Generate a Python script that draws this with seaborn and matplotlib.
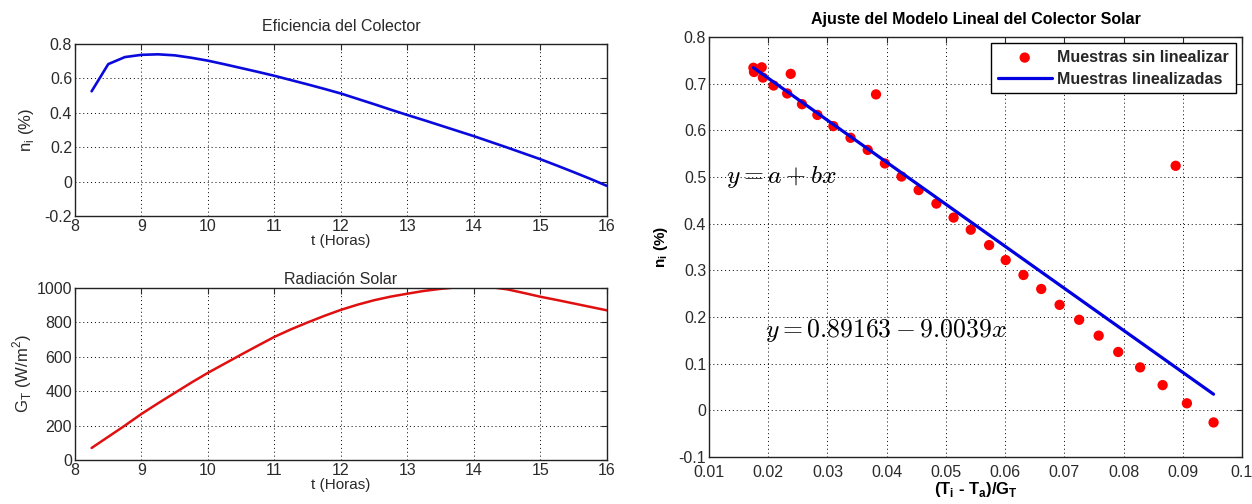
import numpy as np
import pandas as pd
import matplotlib
matplotlib.use("Agg")
import matplotlib.pyplot as plt
import seaborn as sns

# ---------------- data ----------------
hours = [8.25, 8.5, 8.75, 9.0, 9.25, 9.5, 9.75, 10.0, 10.25, 10.5, 10.75, 11.0,
         11.25, 11.5, 11.75, 12.0, 12.25, 12.5, 12.75, 13.0, 13.25, 13.5, 13.75,
         14.0, 14.25, 14.5, 14.75, 15.0, 15.25, 15.5, 15.75, 16.0]
efficiency = [0.525, 0.683, 0.724, 0.737, 0.740, 0.734, 0.720, 0.703, 0.682, 0.660,
              0.638, 0.615, 0.590, 0.565, 0.539, 0.512, 0.481, 0.450, 0.418, 0.387,
              0.357, 0.326, 0.295, 0.264, 0.231, 0.198, 0.164, 0.130, 0.093, 0.055,
              0.016, -0.025]
radiation = [70, 135, 200, 268, 330, 390, 450, 507, 560, 613, 665, 716, 760, 800,
             838, 873, 903, 929, 950, 967, 983, 995, 1004, 1008, 1005, 992, 971,
             949, 930, 910, 890, 870]

sample_x = [0.0175, 0.0176, 0.0189, 0.0191, 0.0209, 0.0232, 0.0238, 0.0257, 0.0283,
            0.0310, 0.0339, 0.0368, 0.0382, 0.0397, 0.0425, 0.0454, 0.0484, 0.0513,
            0.0542, 0.0573, 0.0601, 0.0631, 0.0661, 0.0692, 0.0725, 0.0758, 0.0791,
            0.0828, 0.0866, 0.0888, 0.0907, 0.0952]
sample_y = [0.734, 0.725, 0.735, 0.713, 0.696, 0.679, 0.721, 0.656, 0.633, 0.609,
            0.584, 0.558, 0.677, 0.529, 0.501, 0.472, 0.443, 0.413, 0.387, 0.354,
            0.322, 0.290, 0.260, 0.226, 0.194, 0.160, 0.125, 0.092, 0.054, 0.524,
            0.015, -0.026]
fit_x = [0.0175, 0.0952]
fit_y = [0.7342, 0.0345]

hour_ticks = [8, 9, 10, 11, 12, 13, 14, 15, 16]
eff_ticks = [-0.2, 0, 0.2, 0.4, 0.6, 0.8]
eff_tick_labels = ["-0.2", "0", "0.2", "0.4", "0.6", "0.8"]
rad_ticks = [0, 200, 400, 600, 800, 1000]
fit_xticks = [0.01, 0.02, 0.03, 0.04, 0.05, 0.06, 0.07, 0.08, 0.09, 0.1]
fit_xtick_labels = ["0.01", "0.02", "0.03", "0.04", "0.05", "0.06", "0.07", "0.08", "0.09", "0.1"]
fit_yticks = [-0.1, 0, 0.1, 0.2, 0.3, 0.4, 0.5, 0.6, 0.7, 0.8]
fit_ytick_labels = ["-0.1", "0", "0.1", "0.2", "0.3", "0.4", "0.5", "0.6", "0.7", "0.8"]

# ---------------- style ----------------
sns.set_style("white")
plt.rcParams["font.family"] = ["Liberation Sans", "DejaVu Sans"]
plt.rcParams["axes.unicode_minus"] = False

fig = plt.figure(figsize=(12.52, 5.04), dpi=100)
ax1 = fig.add_axes([0.0599, 0.5714, 0.4249, 0.3413])
ax2 = fig.add_axes([0.0599, 0.0873, 0.4249, 0.3413])
ax3 = fig.add_axes([0.5663, 0.0933, 0.4257, 0.8333])

text_col = "#2a2a2a"

def style_axes(ax, size=11.5, xpad=2):
    for sp in ax.spines.values():
        sp.set_visible(True)
        sp.set_color("#222222")
        sp.set_linewidth(1.0)
    ax.grid(True, linestyle=(0, (1, 3)), color="black", linewidth=0.7)
    ax.set_axisbelow(True)
    ax.tick_params(direction="in", top=True, right=True, length=4, width=0.8,
                   labelsize=size, colors=text_col, pad=2)
    ax.tick_params(axis="x", pad=xpad)

# top-left: efficiency
df_eff = pd.DataFrame({"t": hours, "eff": efficiency})
sns.lineplot(data=df_eff, x="t", y="eff", ax=ax1, color="#0a0adc", linewidth=1.9)
ax1.set_xlim(8, 16)
ax1.set_ylim(-0.2, 0.8)
ax1.set_xticks(hour_ticks)
ax1.set_yticks(eff_ticks)
ax1.set_yticklabels(eff_tick_labels)
style_axes(ax1)
ax1.set_title("Eficiencia del Colector", fontsize=11.5, color=text_col, pad=9)
ax1.set_xlabel("t (Horas)", fontsize=11, color=text_col, labelpad=0)
ax1.set_ylabel(r"n$_\mathregular{i}$ (%)", fontsize=12, color=text_col, labelpad=6)

# bottom-left: radiation
df_rad = pd.DataFrame({"t": hours, "G": radiation})
sns.lineplot(data=df_rad, x="t", y="G", ax=ax2, color="#e01010", linewidth=1.8)
ax2.set_xlim(8, 16)
ax2.set_ylim(0, 1000)
ax2.set_xticks(hour_ticks)
ax2.set_yticks(rad_ticks)
style_axes(ax2)
ax2.set_title("Radiación Solar", fontsize=11.5, color=text_col, pad=3)
ax2.set_xlabel("t (Horas)", fontsize=11, color=text_col, labelpad=0)
ax2.set_ylabel(r"G$_\mathregular{T}$ (W/m$^\mathregular{2}$)", fontsize=12,
               color=text_col, labelpad=2)

# right: fit
df_s = pd.DataFrame({"x": sample_x, "y": sample_y})
df_f = pd.DataFrame({"x": fit_x, "y": fit_y})
sns.scatterplot(data=df_s, x="x", y="y", ax=ax3, color="#ff0000", s=55,
                edgecolor="none", label="Muestras sin linealizar", zorder=3)
sns.lineplot(data=df_f, x="x", y="y", ax=ax3, color="#0000e0", linewidth=2.3,
             label="Muestras linealizadas", zorder=4)
ax3.set_xlim(0.01, 0.1)
ax3.set_ylim(-0.1, 0.8)
ax3.set_xticks(fit_xticks)
ax3.set_xticklabels(fit_xtick_labels)
ax3.set_yticks(fit_yticks)
ax3.set_yticklabels(fit_ytick_labels)
style_axes(ax3, xpad=6)
ax3.set_title("Ajuste del Modelo Lineal del Colector Solar", fontsize=11.5,
              fontweight="bold", color="black", pad=9)
ax3.set_xlabel(r"(T$_\mathregular{i}$ - T$_\mathregular{a}$)/G$_\mathregular{T}$",
               fontsize=12, fontweight="bold", color="black", labelpad=0)
ax3.set_ylabel(r"n$_\mathregular{i}$ (%)", fontsize=11, fontweight="bold",
               color="black", labelpad=6)

ax3.text(0.0128, 0.5, r"$y = a + bx$", fontsize=18.5, math_fontfamily="cm",
         va="center", ha="left", color="black")
ax3.text(0.0194, 0.17, r"$y = 0.89163 - 9.0039x$", fontsize=18.5, math_fontfamily="cm",
         va="center", ha="left", color="black")

leg = ax3.legend(loc="upper right", frameon=True, fancybox=False, framealpha=1,
                 edgecolor="black", borderaxespad=0.4, handlelength=3.4,
                 handletextpad=0.35, borderpad=0.4, labelspacing=0.45,
                 prop={"weight": "bold", "size": 11.5})
leg.get_frame().set_linewidth(1.0)

fig.savefig("out.png", dpi=100)
